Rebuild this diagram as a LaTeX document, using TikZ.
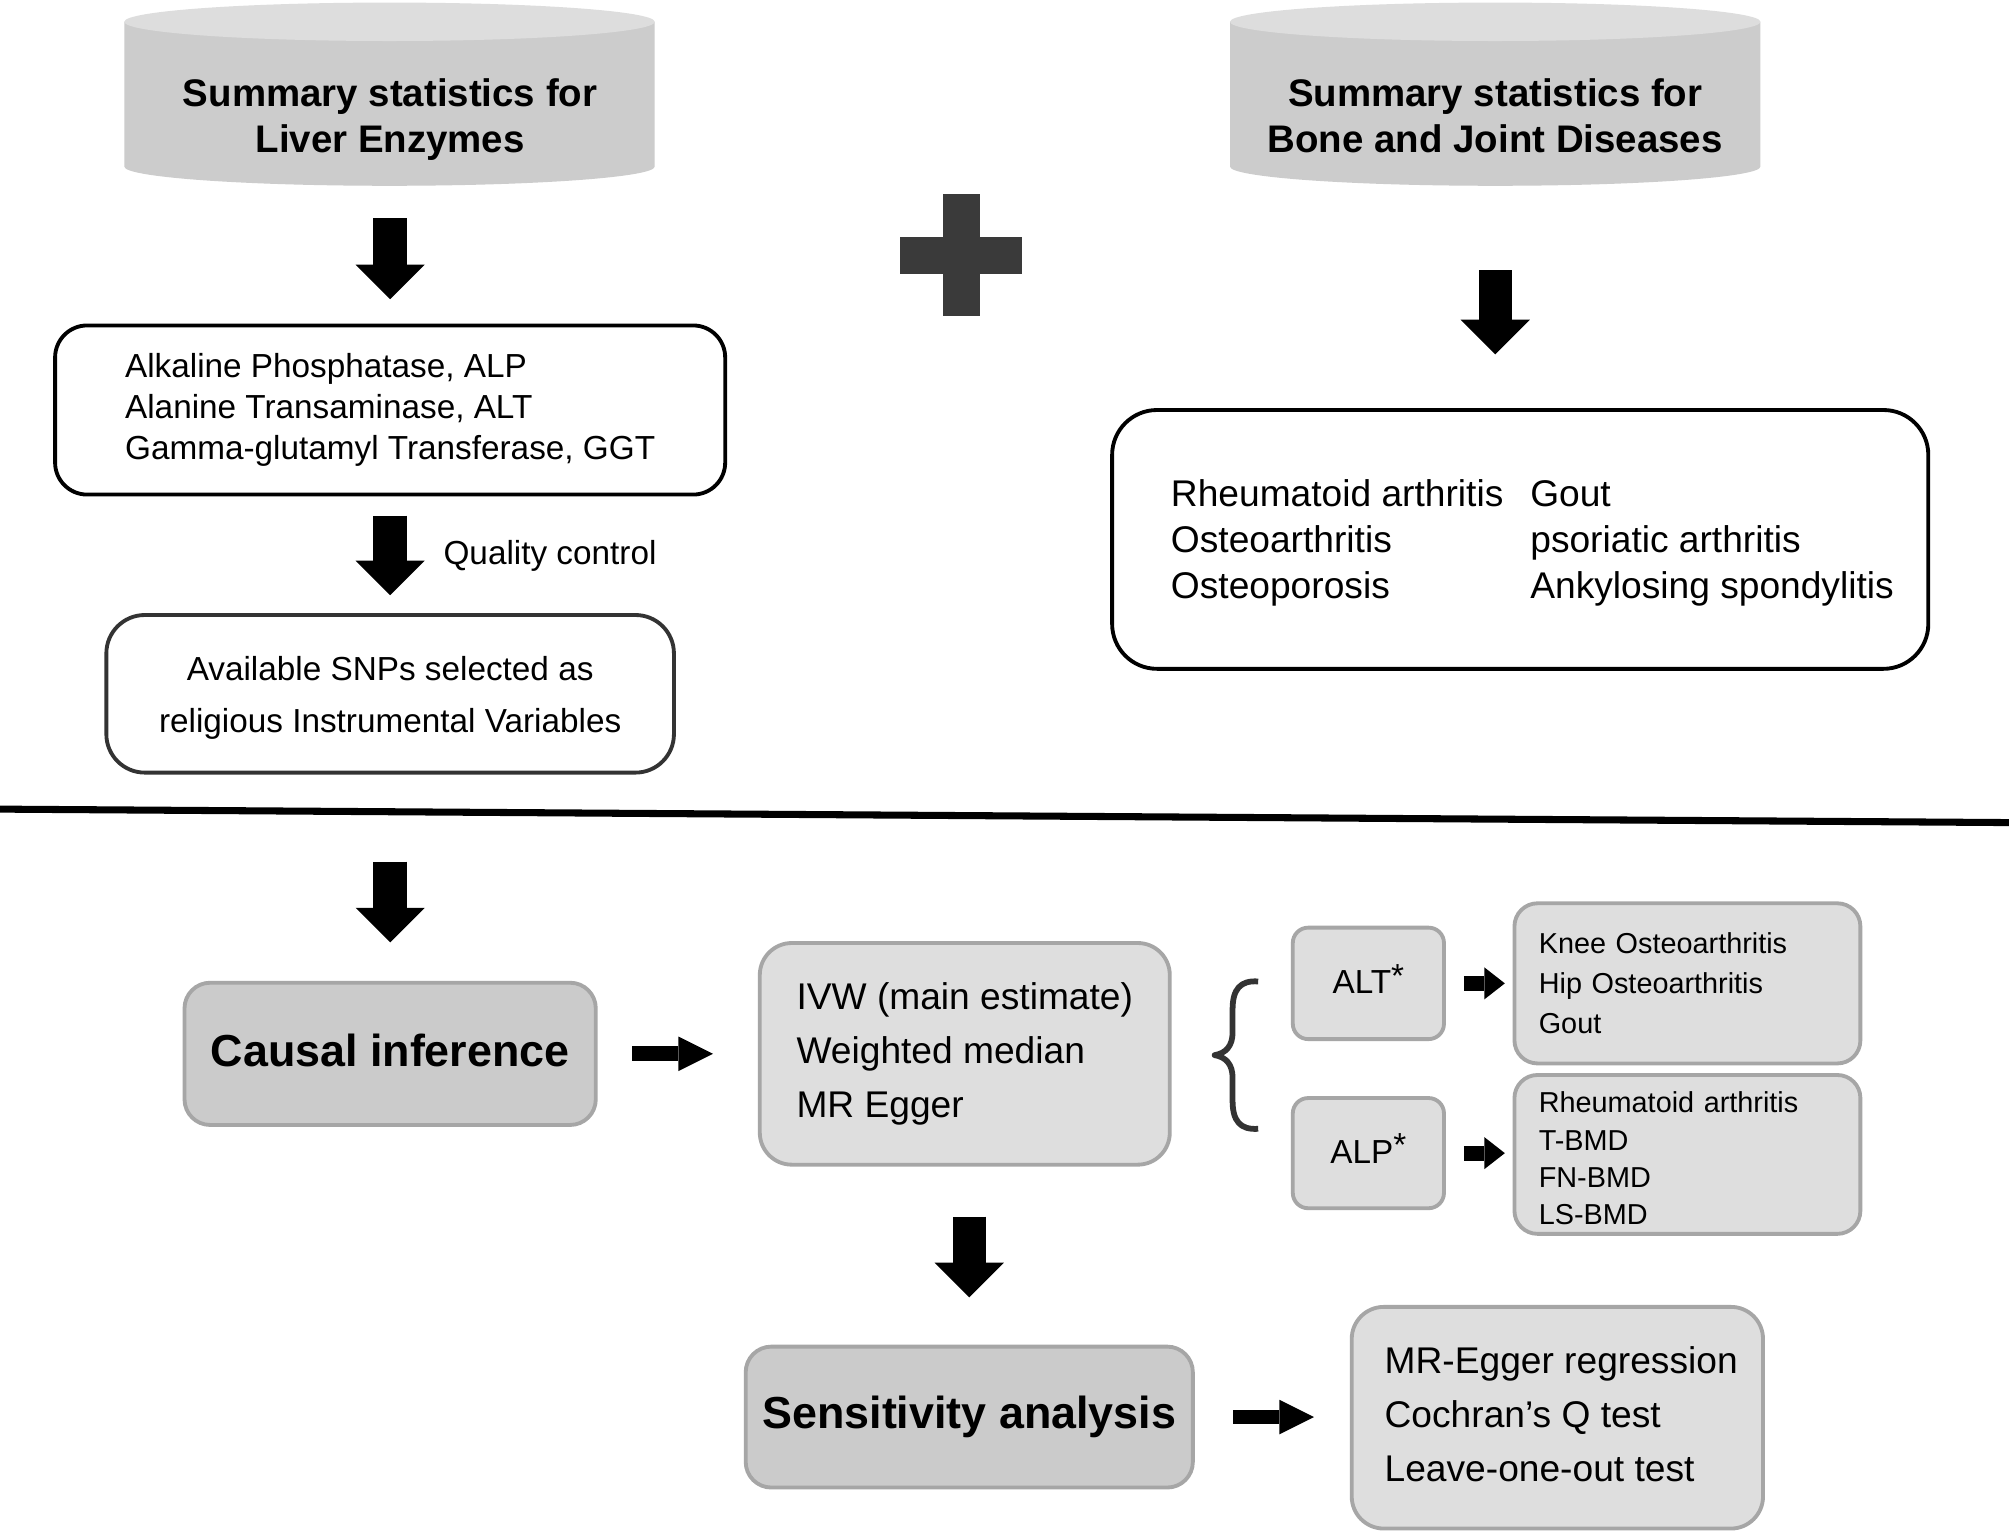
\documentclass[tikz,border=0pt]{standalone}
\usepackage{fontspec}
\setmainfont{Liberation Sans}
\usetikzlibrary{arrows.meta}

\definecolor{cylbody}{HTML}{CCCCCC}
\definecolor{cyltop}{HTML}{DDDDDD}
\definecolor{darkfill}{HTML}{CBCBCB}
\definecolor{lightfill}{HTML}{DEDEDE}
\definecolor{boxedge}{HTML}{A6A6A6}
\definecolor{snpedge}{HTML}{333333}
\definecolor{plusgray}{HTML}{3A3A3A}

% invisible struts to nudge text inside the boxes
\newcommand{\padtop}[1]{\rule{0pt}{#1}}
\newcommand{\padbot}[1]{\rule[-#1]{0pt}{#1}}

\begin{document}
\begin{tikzpicture}[x=1pt, y=-1pt,
  every node/.style={inner sep=2pt},
  whitebox/.style={draw=black, line width=3pt, fill=white},
  darkbox/.style={draw=boxedge, line width=3pt, fill=darkfill, rounded corners=20pt},
  lightbox/.style={draw=boxedge, line width=3pt, fill=lightfill},
  headtext/.style={font=\fontsize{30}{36}\selectfont\bfseries, align=center},
  downarrow/.style={line width=26pt, -{Triangle[length=27pt, width=54pt, line width=0pt]}},
  midarrow/.style={line width=11.5pt, -{Triangle[length=27pt, width=27pt, line width=0pt]}},
  smallarrow/.style={line width=11.5pt, -{Triangle[length=16pt, width=25pt, line width=0pt]}}]

\useasboundingbox[fill=white] (0,0) rectangle (1568,1195);

% the two data cylinders
\fill[cylbody] (97,17) -- (97,130) arc[start angle=180, end angle=0, x radius=207, y radius=15] -- (511,17) -- cycle;
\fill[cyltop] (304,17) ellipse[x radius=207, y radius=15];
\fill[cylbody] (960,17) -- (960,130) arc[start angle=180, end angle=0, x radius=207, y radius=15] -- (1374,17) -- cycle;
\fill[cyltop] (1167,17) ellipse[x radius=207, y radius=15];

\node[headtext] (cylL) at (304.5,93) {Summary statistics for\\Liver Enzymes};
\node[headtext] (cylR) at (1167,93) {Summary statistics for\\Bone and Joint Diseases\padbot{6pt}};

% plus sign
\fill[plusgray] (702.5,185) rectangle (798,213.5);
\fill[plusgray] (736,151.5) rectangle (764.5,247);

\node[whitebox, rounded corners=25pt, minimum width=523pt, minimum height=132pt, align=left, font=\fontsize{26}{32}\selectfont] (enz) at (304.5,320) {Alkaline Phosphatase, ALP\\Alanine Transaminase, ALT\\Gamma-glutamyl Transferase, GGT};
\node[font=\fontsize{26}{32}\selectfont, anchor=west, inner sep=0pt] (qc) at (346,434) {Quality control};
\node[whitebox, draw=snpedge, rounded corners=30pt, minimum width=443pt, minimum height=123pt, align=center, font=\fontsize{26}{41}\selectfont] (snp) at (304.5,541.5) {\padtop{25pt}Available SNPs selected as\\religious Instrumental Variables};

\node[whitebox, rounded corners=35pt, minimum width=637pt, minimum height=202pt, font=\fontsize{29}{36}\selectfont] (dis) at (1186.5,421) {\begin{tabular}{@{\hspace{19pt}}l@{\hspace{21pt}}l@{}}
\padtop{31pt}Rheumatoid arthritis & Gout\\
Osteoarthritis & psoriatic arthritis\\
Osteoporosis & Ankylosing spondylitis
\end{tabular}};

% divider
\coordinate (divL) at (0,631.5);
\coordinate (divR) at (1568,642);
\draw[line width=5.5pt] (divL) -- (divR);

\node[darkbox, minimum width=321pt, minimum height=111pt, font=\fontsize{35}{42}\selectfont\bfseries] (causal) at (304.5,822.5) {Causal inference\padbot{6pt}};
\node[lightbox, rounded corners=25pt, minimum width=320pt, minimum height=173pt, align=left, font=\fontsize{29}{42}\selectfont] (ivw) at (753,822.5) {IVW (main estimate)\\Weighted median\\MR Egger};
\node[lightbox, rounded corners=12pt, minimum width=118pt, minimum height=87pt, font=\fontsize{26}{32}\selectfont] (alt) at (1068,767.5) {ALT\raisebox{0.2em}{*}\padbot{7pt}};
\node[lightbox, rounded corners=12pt, minimum width=118pt, minimum height=86pt, font=\fontsize{26}{32}\selectfont] (alp) at (1068,900) {ALP\raisebox{0.2em}{*}\padbot{7pt}};
\node[lightbox, rounded corners=18pt, minimum width=270pt, minimum height=125pt, text width=232pt, inner xsep=19pt, inner ysep=2pt, align=left, font=\fontsize{22.5}{31}\selectfont] (knee) at (1317,767.5) {Knee Osteoarthritis\\Hip Osteoarthritis\\Gout};
\node[lightbox, rounded corners=18pt, minimum width=270pt, minimum height=124pt, text width=232pt, inner xsep=19pt, inner ysep=1pt, align=left, font=\fontsize{22.5}{29}\selectfont] (ra) at (1317,901) {\padtop{22.5pt}Rheumatoid arthritis\\T-BMD\\FN-BMD\\LS-BMD};
\node[darkbox, minimum width=349pt, minimum height=110pt, font=\fontsize{35}{42}\selectfont\bfseries] (sens) at (756.5,1106) {Sensitivity analysis};
\node[lightbox, rounded corners=25pt, minimum width=321pt, minimum height=173pt, align=left, font=\fontsize{29}{42}\selectfont] (mre) at (1215.5,1106.5) {\hspace*{6pt}MR-Egger regression\\\hspace*{6pt}Cochran’s Q test\\\hspace*{6pt}Leave-one-out test\padbot{6pt}};

% brace
\draw[snpedge, line width=4.5pt, line join=round] (982,766) .. controls (968,765) and (962,772) .. (962,788) -- (962,806) .. controls (962,816) and (957,822) .. (948,823.5) .. controls (957,825) and (962,831) .. (962,841) -- (962,859) .. controls (962,875) and (968,882) .. (982,881);

% arrows
\draw[downarrow, shorten <=43pt, shorten >=19pt] (cylL.south) -- (enz.north);
\draw[downarrow, shorten <=84pt, shorten >=42pt] (cylR.south) -- (cylR.south |- dis.north);
\draw[downarrow, shorten <=15pt, shorten >=14pt] (enz.south) -- (snp.north);
\draw[downarrow, shorten <=68pt, shorten >=30pt] (snp.south) -- (causal.north);
\draw[downarrow, shorten <=39pt, shorten >=37pt] (ivw.south -| sens.north) -- (sens.north);
\draw[midarrow, shorten <=27pt, shorten >=35pt] (causal.east) -- (ivw.west);
\draw[midarrow, shorten <=30pt, shorten >=28pt] (sens.east) -- (sens.east -| mre.west);
\draw[smallarrow, shorten <=14pt, shorten >=6pt] (alt.east) -- (alt.east -| knee.west);
\draw[smallarrow, shorten <=14pt, shorten >=6pt] (alp.east) -- (alp.east -| ra.west);

\end{tikzpicture}
\end{document}
